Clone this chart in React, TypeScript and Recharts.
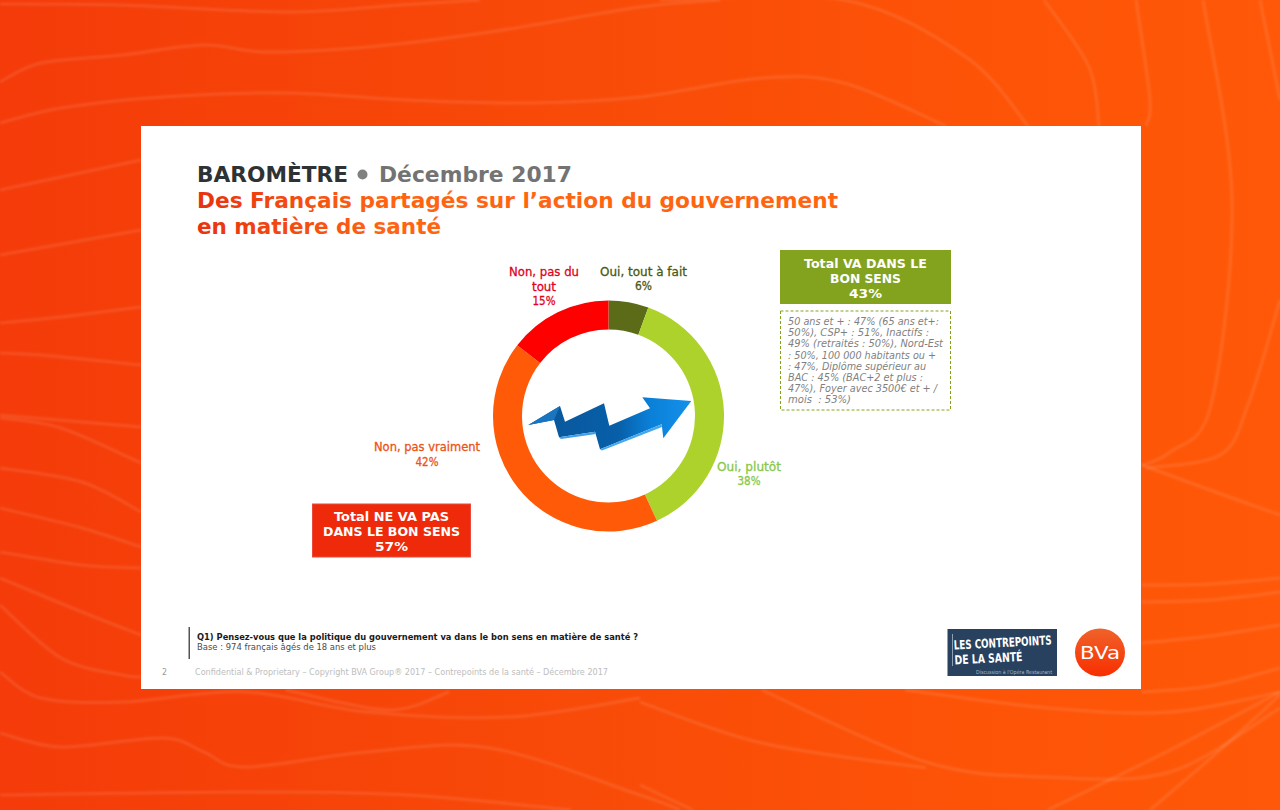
import { PieChart, Pie, Cell } from 'recharts';

const sliceLabels = [['Oui, tout à fait'], ['Oui, plutôt'], ['Non, pas vraiment'], ['Non, pas du', 'tout']];
const sliceNames = ['Oui, tout à fait', 'Oui, plutôt', 'Non, pas vraiment', 'Non, pas du tout'];
// unrounded shares read from the ring, printed rounded
const sliceValues = [5.6, 37.5, 42.4, 14.5];
const totalYes = ['Total VA DANS LE', 'BON SENS', '43%'];
const totalNo = ['Total NE VA PAS', 'DANS LE BON SENS', '57%'];
const detailLines = [
  '50 ans et + : 47% (65 ans et+:',
  '50%), CSP+ : 51%, Inactifs :',
  '49% (retraités : 50%), Nord-Est',
  ': 50%, 100 000 habitants ou +',
  ': 47%, Diplôme supérieur au',
  'BAC : 45% (BAC+2 et plus :',
  '47%), Foyer avec 3500€ et + /',
  'mois  : 53%)',
];

const sliceColors = ['#5B6B18', '#ADD22B', '#FF5A08', '#FF0000'];
const labelColors = ['#4A5A12', '#88C84A', '#EC5316', '#E4001B'];
// centre x, first baseline, text width per line
const labelPlaces = [
  { x: 643.5, y: 275.5, w: [87, 17] },
  { x: 749, y: 470.5, w: [64, 23] },
  { x: 427, y: 451, w: [106, 23] },
  { x: 544, y: 276, w: [70, 24, 23] },
];
const detailWidths = [151, 141, 155, 148, 138, 135, 149, 63];
const detailBaselines = [325, 336, 347, 358.5, 370, 381, 392, 403];

const FONT = '"DejaVu Sans", Verdana, sans-serif';

// background swirl lines, decoration only
const swirls = [
  [[0, 4], [120, 5], [290, 12], [400, 5], [480, 0]],
  [[0, 82], [41, 63], [122, 55], [204, 45], [265, 52], [367, 47], [490, 32], [640, 7], [720, 0]],
  [[0, 123], [61, 108], [163, 97], [286, 93], [408, 100], [531, 103], [640, 97], [762, 78], [844, 83], [946, 126]],
  [[0, 190], [141, 160]],
  [[0, 255], [141, 230]],
  [[0, 323], [61, 317], [141, 307]],
  [[0, 353], [41, 355], [141, 365]],
  [[660, 0], [844, 0], [966, 57], [1028, 126]],
  [[1044, 0], [1089, 67], [1099, 126]],
  [[1136, 0], [1150, 100], [1146, 126]],
  [[1203, 0], [1232, 200], [1211, 405], [1170, 452], [1142, 465]],
  [[1260, 0], [1280, 100]],
  [[1280, 300], [1248, 405], [1220, 455], [1146, 468]],
  [[1142, 465], [1210, 490], [1280, 515]],
  [[1142, 585], [1210, 584], [1280, 578]],
  [[1142, 602], [1210, 600], [1280, 592]],
  [[1142, 643], [1210, 636], [1280, 625]],
  [[1142, 692], [1210, 686], [1280, 668]],
  [[762, 690], [926, 762], [1048, 777], [1170, 772], [1280, 708]],
  [[640, 702], [762, 743], [926, 768]],
  [[905, 690], [1048, 708], [1170, 712], [1280, 692]],
  [[1048, 810], [1170, 750], [1280, 692]],
  [[1150, 810], [1220, 750], [1280, 695]],
  [[640, 785], [693, 810]],
  [[0, 415], [141, 427]],
  [[0, 418], [61, 428], [141, 463]],
  [[0, 468], [82, 482], [141, 512]],
  [[0, 508], [82, 528], [141, 547]],
  [[0, 552], [82, 565], [141, 568]],
  [[0, 578], [82, 612], [141, 635]],
  [[0, 605], [61, 658], [122, 675], [141, 677]],
  [[0, 672], [41, 698], [122, 702], [245, 692], [367, 712], [510, 717], [640, 698]],
  [[0, 733], [61, 747], [163, 738], [204, 752], [245, 767], [367, 752], [490, 748], [640, 795], [680, 810]],
  [[0, 795], [245, 792], [408, 795], [571, 810]],
  [[286, 690], [388, 710], [449, 692]],
];

function smooth(pts: number[][]) {
  let d = `M${pts[0][0]} ${pts[0][1]}`;
  for (let i = 0; i < pts.length - 1; i++) {
    const p0 = pts[Math.max(i - 1, 0)];
    const p1 = pts[i];
    const p2 = pts[i + 1];
    const p3 = pts[Math.min(i + 2, pts.length - 1)];
    const c1 = [p1[0] + (p2[0] - p0[0]) / 6, p1[1] + (p2[1] - p0[1]) / 6];
    const c2 = [p2[0] - (p3[0] - p1[0]) / 6, p2[1] - (p3[1] - p1[1]) / 6];
    d += ` C${c1[0]} ${c1[1]} ${c2[0]} ${c2[1]} ${p2[0]} ${p2[1]}`;
  }
  return d;
}

function T({ x, y, w, size, fill, bold, italic, anchor, heavy, children }: any) {
  return (
    <text
      x={x}
      y={y}
      fontFamily={FONT}
      fontSize={size}
      fill={fill}
      stroke={heavy ? fill : 'none'}
      strokeWidth={heavy ? 0.3 : 0}
      fontWeight={bold ? 700 : 400}
      fontStyle={italic ? 'italic' : 'normal'}
      textAnchor={anchor || 'start'}
      textLength={w}
      lengthAdjust="spacingAndGlyphs"
      xmlSpace="preserve"
    >
      {children}
    </text>
  );
}

function sliceLabel(props: any) {
  const i = props.index;
  const place = labelPlaces[i];
  const lines = [...sliceLabels[i], `${Math.round(sliceValues[i])}%`];
  return (
    <g key={i}>
      {lines.map((line, n) => (
        <T key={n} x={place.x} y={place.y + n * 14.7} w={place.w[n]} size={12} fill={labelColors[i]} anchor="middle" heavy>
          {line}
        </T>
      ))}
    </g>
  );
}

export default function App() {
  const data = sliceNames.map((name, i) => ({ name, value: sliceValues[i] }));

  return (
    <div style={{ position: 'absolute', left: 0, top: 0, width: 1280, height: 810, overflow: 'hidden' }}>
      <style>{'html,body{margin:0;overflow:hidden}'}</style>

      <svg width={1280} height={810} style={{ position: 'absolute', left: 0, top: 0 }}>
        <defs>
          <linearGradient id="bg" x1="0" y1="0" x2="1" y2="0">
            <stop offset="0" stopColor="#F43B09" />
            <stop offset="0.5" stopColor="#F94C08" />
            <stop offset="0.75" stopColor="#FD5307" />
            <stop offset="1" stopColor="#FF5808" />
          </linearGradient>
          <filter id="soft">
            <feGaussianBlur stdDeviation="1" />
          </filter>
        </defs>
        <rect width={1280} height={810} fill="url(#bg)" />
        <g fill="none" stroke="#FFFFFF" strokeOpacity={0.1} strokeWidth={3} filter="url(#soft)">
          {swirls.map((s, i) => (
            <path key={i} d={smooth(s)} />
          ))}
        </g>
        <rect x={141} y={126} width={1000} height={563} fill="#FFFFFF" />
      </svg>

      <div style={{ position: 'absolute', left: 0, top: 0 }}>
        <PieChart width={1280} height={810} margin={{ top: 0, right: 0, bottom: 0, left: 0 }}>
          <Pie
            data={data}
            dataKey="value"
            nameKey="name"
            cx={608.5}
            cy={416}
            innerRadius={86.5}
            outerRadius={115.5}
            startAngle={90}
            endAngle={-270}
            stroke="none"
            label={sliceLabel}
            labelLine={false}
            isAnimationActive={false}
          >
            {data.map((d, i) => (
              <Cell key={d.name} fill={sliceColors[i]} />
            ))}
          </Pie>
        </PieChart>
      </div>

      <svg width={1280} height={810} style={{ position: 'absolute', left: 0, top: 0, pointerEvents: 'none' }}>
        <defs>
          <linearGradient id="titleGrad" gradientUnits="userSpaceOnUse" x1="197" y1="0" x2="385" y2="0">
            <stop offset="0" stopColor="#E8320F" />
            <stop offset="1" stopColor="#FF6410" />
          </linearGradient>
          <linearGradient id="arrowGrad" gradientUnits="userSpaceOnUse" x1="530" y1="0" x2="690" y2="0">
            <stop offset="0" stopColor="#0A5699" />
            <stop offset="0.55" stopColor="#075FA8" />
            <stop offset="0.75" stopColor="#0A80D8" />
            <stop offset="1" stopColor="#1490EA" />
          </linearGradient>
          <linearGradient id="bvaGrad" x1="0" y1="0" x2="0" y2="1">
            <stop offset="0" stopColor="#F0622A" />
            <stop offset="1" stopColor="#F82E00" />
          </linearGradient>
        </defs>

        {/* titres */}
        <T x={197} y={182} w={151} size={22} fill="#2F3234" bold>BAROMÈTRE</T>
        <circle cx={362.5} cy={174.5} r={5} fill="#808080" />
        <T x={379} y={182} w={193} size={22} fill="#737373" bold>Décembre 2017</T>
        <T x={197} y={208} w={641} size={22} fill="url(#titleGrad)" bold>Des Français partagés sur l’action du gouvernement</T>
        <T x={197} y={234} w={244} size={22} fill="url(#titleGrad)" bold>en matière de santé</T>

        {/* fleche */}
        <polygon
          points="528.3,425 560,406 565,421.7 604,403.3 609.3,425.7 650,408.3 642.3,397.3 691.3,401 663.3,438.3 661.7,424.3 600,449.3 595,431.7 559,437.3 554,420"
          fill="url(#arrowGrad)"
        />
        <polygon points="528.3,425 554,420 560,406" fill="#1A75C0" />
        <polygon points="559,437.3 595,431.7 596,434 561,439" fill="#3FA0E8" />
        <polygon points="600,449.3 661.7,424.3 662,427 602,450.5" fill="#45A8EE" />

        {/* encadres */}
        <rect x={780} y={250} width={171} height={54} fill="#83A31F" />
        <T x={865.5} y={268} w={123} size={13} fill="#FFFFFF" bold anchor="middle">{totalYes[0]}</T>
        <T x={865.5} y={282.5} w={71} size={13} fill="#FFFFFF" bold anchor="middle">{totalYes[1]}</T>
        <T x={865.5} y={297.5} w={33} size={13} fill="#FFFFFF" bold anchor="middle">{totalYes[2]}</T>

        <rect x={780.5} y={311} width={170} height={99} fill="none" stroke="#83A31F" strokeDasharray="3 2" />
        {detailLines.map((line, i) => (
          <T key={i} x={788} y={detailBaselines[i]} w={detailWidths[i]} size={11} fill="#7F7F7F" italic>
            {line}
          </T>
        ))}

        <rect x={312.5} y={504} width={158} height={53} fill="#EE2A0B" stroke="#EA4A3C" />
        <T x={391.5} y={521} w={115} size={13} fill="#FFFFFF" bold anchor="middle">{totalNo[0]}</T>
        <T x={391.5} y={536} w={137} size={13} fill="#FFFFFF" bold anchor="middle">{totalNo[1]}</T>
        <T x={391.5} y={551} w={33} size={13} fill="#FFFFFF" bold anchor="middle">{totalNo[2]}</T>

        {/* bas de page */}
        <rect x={188.5} y={627} width={1.5} height={32} fill="#555555" />
        <T x={197} y={640} w={441} size={9} fill="#1A1A1A" bold>Q1) Pensez-vous que la politique du gouvernement va dans le bon sens en matière de santé ?</T>
        <T x={197} y={650} w={179} size={9} fill="#4A4A4A">Base : 974 français âgés de 18 ans et plus</T>
        <T x={162} y={675} w={5} size={9} fill="#999999">2</T>
        <T x={195} y={675} w={413} size={9} fill="#BDBDBD">Confidential &amp; Proprietary – Copyright BVA Group® 2017 – Contrepoints de la santé – Décembre 2017</T>

        {/* logos */}
        <rect x={947.5} y={629} width={109.5} height={47} fill="#27415E" />
        <rect x={952} y={634} width={1} height={32} fill="#8FA0B3" />
        <g transform="rotate(-3 1002 650)">
          <T x={954} y={647} w={98} size={12.5} fill="#FFFFFF" bold>LES CONTREPOINTS</T>
          <T x={954} y={662} w={68} size={12.5} fill="#FFFFFF" bold>DE LA SANTÉ</T>
        </g>
        <T x={976} y={673.5} w={76} size={5.5} fill="#A9B5C2">Discussion à l'Opéra Restaurant</T>
        <ellipse cx={1100} cy={652.5} rx={25} ry={24} fill="url(#bvaGrad)" />
        <T x={1100} y={659} w={40} size={18} fill="#FFFFFF" anchor="middle">BVa</T>
      </svg>
    </div>
  );
}
